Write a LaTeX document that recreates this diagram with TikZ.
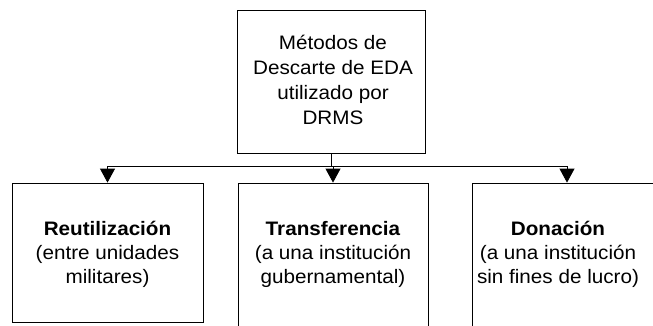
\documentclass[tikz,border=0pt]{standalone}
\usepackage{fontspec}
\setmainfont{Liberation Sans}[FakeStretch=1.06]
\usetikzlibrary{arrows.meta}
\begin{document}
\begin{tikzpicture}[x=1pt,y=-1pt,
  boxst/.style={draw, line width=0.8pt, minimum width=#1, inner sep=0pt},
  txt/.style={align=center, font=\fontsize{19.5}{24}\selectfont, inner sep=0pt},
  conn/.style={line width=0.8pt},
  arr/.style={conn, -{Triangle[width=15pt,length=14pt]}}]
\useasboundingbox (0,0) rectangle (653,325);
\clip (0,0) rectangle (653,325);
% boxes
\node[boxst=188pt, minimum height=143pt] (top) at (331,81.5) {};
\node[boxst=191pt, minimum height=139pt] (reu) at (107.5,252.5) {};
\node[boxst=190pt, minimum height=160pt] (tra) at (333,263) {};
\node[boxst=190pt, minimum height=160pt] (don) at (567,263) {};
% texts
\node[txt, font=\fontsize{19.5}{25}\selectfont] (ttop) at (333,79.5) {Métodos de\\Descarte de EDA\\utilizado por\\DRMS};
\node[txt] (treu) at (107.5,254) {\textbf{Reutilización}\\(entre unidades\\militares)};
\node[txt] (ttra) at (333,254) {\textbf{Transferencia}\\(a una institución\\gubernamental)};
\node[txt] (tdon) at (558,254) {\textbf{Donación}\\(a una institución\\sin fines de lucro)};
% connectors
\coordinate (j) at (331,166);
\coordinate (jl) at (107.5,166);
\coordinate (jr) at (567,166);
\coordinate (jm) at (333,166);
\draw[conn] (top.south) -- (j);
\draw[conn] (jl) -- (jr);
\draw[arr] (jl) -- (reu.north);
\draw[arr] (jm) -- (tra.north);
\draw[arr] (jr) -- (don.north);
\end{tikzpicture}
\end{document}
